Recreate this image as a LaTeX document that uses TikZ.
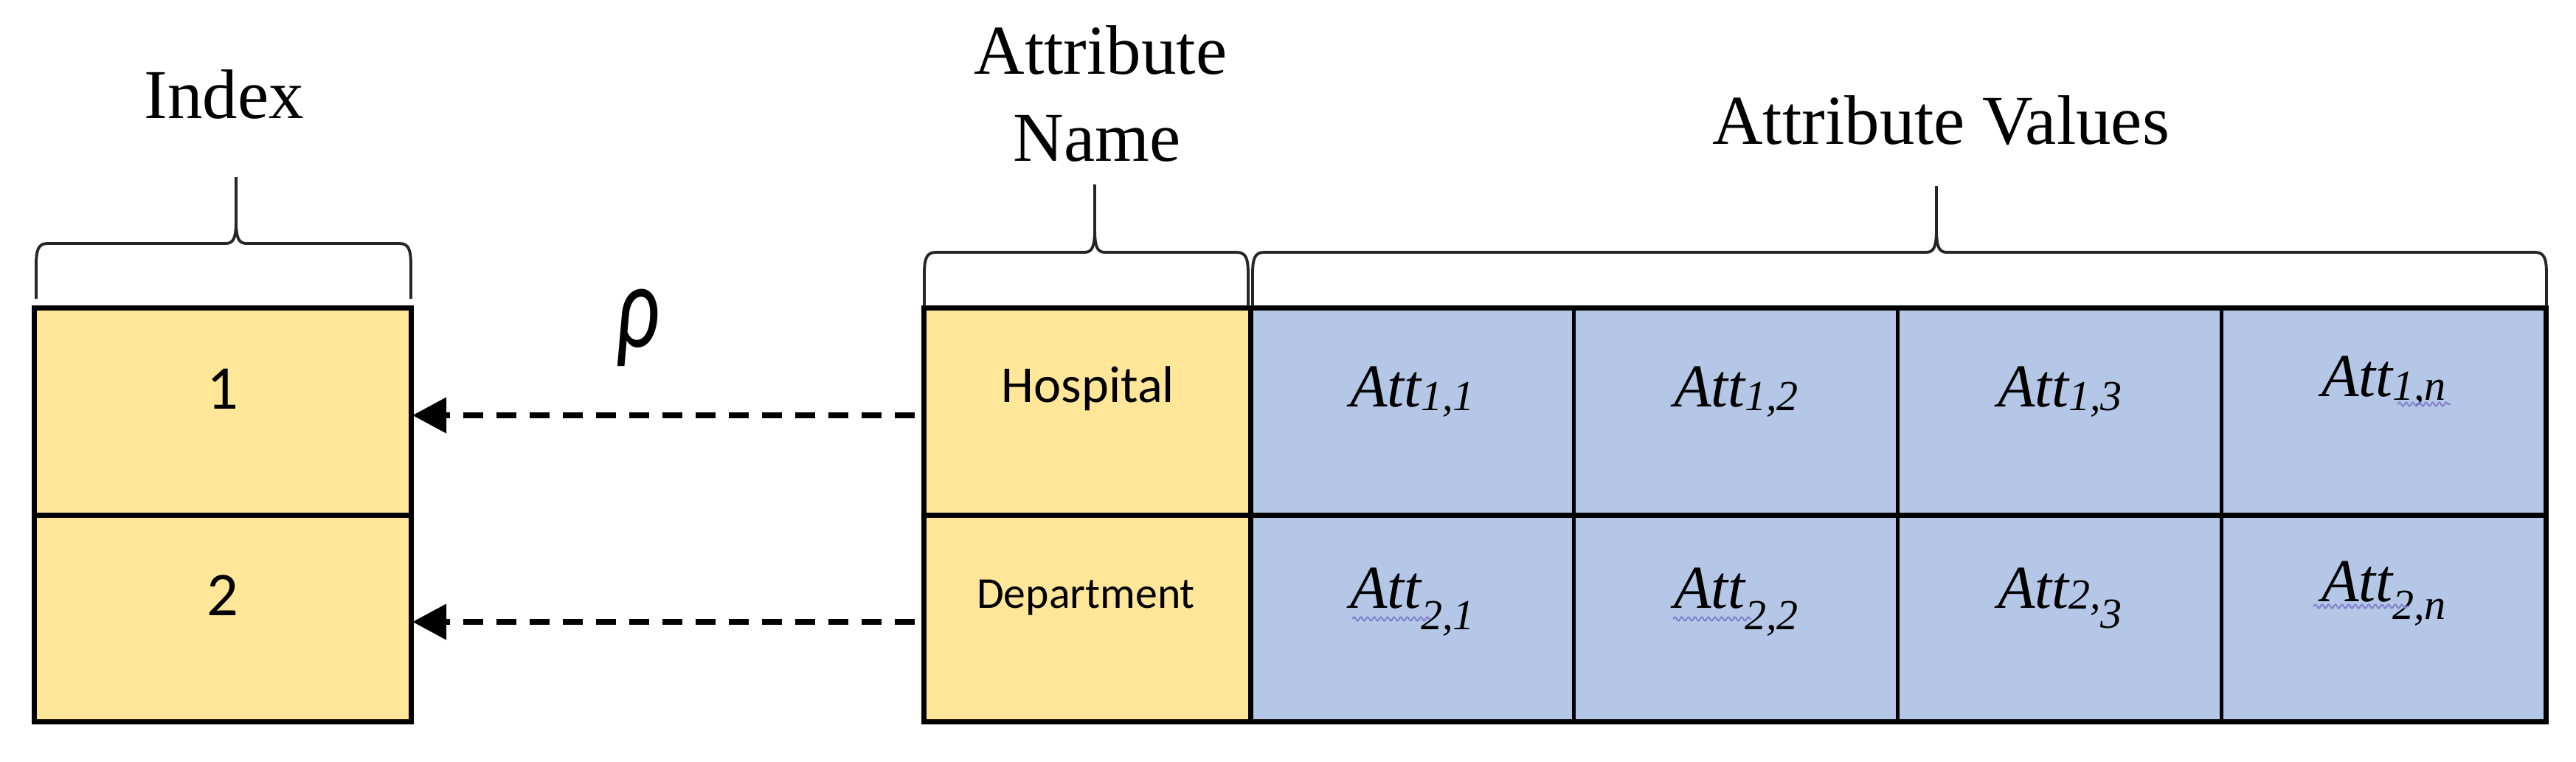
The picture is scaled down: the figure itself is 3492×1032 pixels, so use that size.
\documentclass[tikz,border=0pt]{standalone}
\usepackage{fontspec}
\setmainfont{Liberation Serif}
\newfontfamily\calfont{Carlito}
\usetikzlibrary{arrows.meta,decorations.pathmorphing}
\definecolor{cellyellow}{RGB}{255,230,153}
\definecolor{cellblue}{RGB}{180,199,231}
\definecolor{squig}{RGB}{130,130,205}
\newcommand\wbrace[6]{% xl xr xt yh ytip yb
  \draw[bracestroke] (#1,#6) -- (#1,#4+30) .. controls (#1,#4+8) and (#1+3,#4) .. (#1+16,#4)
    -- (#3-14,#4) .. controls (#3-3,#4) and (#3,#4-8) .. (#3,#4-32) -- (#3,#5);
  \draw[bracestroke] (#2,#6) -- (#2,#4+30) .. controls (#2,#4+8) and (#2-3,#4) .. (#2-16,#4)
    -- (#3+14,#4) .. controls (#3+3,#4) and (#3,#4-8) .. (#3,#4-32) -- (#3,#5);
}
\newcommand\attmain{\fontsize{23.5}{26}\selectfont\itshape}
\newcommand\attsub{\fontsize{16.5}{18}\selectfont\itshape}
\newcommand\attlo[2]{{\attmain Att}\raisebox{-#2}{\attsub #1}}
\begin{document}
\begin{tikzpicture}[x=0.01cm,y=-0.01cm,
  cell/.style={rectangle,inner sep=0pt,outer sep=0pt,minimum height=2.80cm,line width=1.4pt,draw=black},
  idxcell/.style={cell,fill=cellyellow,minimum width=5.10cm},
  namecell/.style={cell,fill=cellyellow,minimum width=4.42cm},
  valcell/.style={cell,fill=cellblue,minimum width=4.39cm},
  outline/.style={line width=2pt,draw=black},
  bracestroke/.style={line width=1.1pt,draw=black!85,line join=round},
  title/.style={anchor=base,inner sep=0pt,font=\fontsize{27}{32}\selectfont},
  numtext/.style={anchor=base,inner sep=0pt,font=\calfont\fontsize{24}{28}\selectfont},
  attrtext/.style={anchor=base,inner sep=0pt},
  atttext/.style={anchor=base,inner sep=0pt},
  refarrow/.style={line width=0.08cm,dash pattern=on 0.27cm off 0.18cm,
    -{Triangle[length=0.46cm,width=0.47cm]},shorten <=0.13cm,shorten >=0.02cm},
  squiggle/.style={draw=squig,line width=0.6pt,decorate,
    decoration={snake,segment length=0.09cm,amplitude=0.025cm}}
]
\useasboundingbox (0,0) rectangle (3492,1032);

% cells
\node[idxcell] (i1) at (302,558) {};
\node[idxcell] (i2) at (302,838) {};
\node[namecell] (n1) at (1474,558) {};
\node[namecell] (n2) at (1474,838) {};
\node[valcell] (v11) at (1914.5,558) {};
\node[valcell] (v12) at (2353.5,558) {};
\node[valcell] (v13) at (2792.5,558) {};
\node[valcell] (v1n) at (3231.5,558) {};
\node[valcell] (v21) at (1914.5,838) {};
\node[valcell] (v22) at (2353.5,838) {};
\node[valcell] (v23) at (2792.5,838) {};
\node[valcell] (v2n) at (3231.5,838) {};

% heavy outlines
\draw[outline] (i1.north west) rectangle (i2.south east);
\draw[outline] (i1.south west) -- (i1.south east);
\draw[outline] (n1.north west) rectangle (v2n.south east);
\draw[outline] (n1.south west) -- (v1n.south east);
\draw[outline] (n1.north east) -- (n2.south east);

% braces
\wbrace{49}{557}{320}{330}{240}{405}
\wbrace{1253}{1692}{1484}{342}{250}{415}
\wbrace{1698}{3452}{2625}{342}{252}{415}

% titles
\node[title] (tindex) at (304,160) {Index};
\node[title] (tattr) at (1492,100) {Attribute};
\node[title] (tname) at (1487,218) {Name};
\node[title] (tvalues) at (2631,195) {Attribute Values};

% rho
\node[anchor=base,inner sep=0pt,font=\calfont\itshape\fontsize{46}{50}\selectfont] (rho) at (864,470) {\scalebox{0.72}[1]{ρ}};

% index numbers
\node[numtext] (l1) at (302,554) {1};
\node[numtext] (l2) at (302,834) {2};

% attribute names
\node[attrtext,font=\calfont\fontsize{20}{24}\selectfont] (lhosp) at (1475,545) {Hospital};
\node[attrtext,font=\calfont\fontsize{17}{20}\selectfont] (ldept) at (1472,824) {Department};

% attribute values
\node[atttext] (a11) at (1914.5,551) {\attlo{1,1}{1.7pt}};
\node[atttext] (a12) at (2353.5,551) {\attlo{1,2}{1.7pt}};
\node[atttext] (a13) at (2792.5,551) {\attlo{1,3}{1.7pt}};
\node[atttext] (a1n) at (3231.5,537) {\attlo{1,n}{1.7pt}};
\node[atttext] (a21) at (1914.5,824) {\attlo{2,1}{8.5pt}};
\node[atttext] (a22) at (2353.5,824) {\attlo{2,2}{8.5pt}};
\node[atttext] (a23) at (2792.5,824) {{\attmain Att}\raisebox{-0.5pt}{\attsub 2,}\raisebox{-7.7pt}{\attsub 3}};
\node[atttext] (a2n) at (3231.5,815) {\attlo{2,n}{7pt}};

% spell-check squiggles
\draw[squiggle] (1833,839) -- (1940,839);
\draw[squiggle] (2268,839) -- (2374,839);
\draw[squiggle] (3250,548) -- (3322,548);
\draw[squiggle] (3136,822) -- (3266,822);

% mapping arrows
\draw[refarrow] ([yshift=-0.05cm]n1.west) -- ([yshift=-0.05cm]i1.east);
\draw[refarrow] ([yshift=-0.05cm]n2.west) -- ([yshift=-0.05cm]i2.east);
\end{tikzpicture}
\end{document}
